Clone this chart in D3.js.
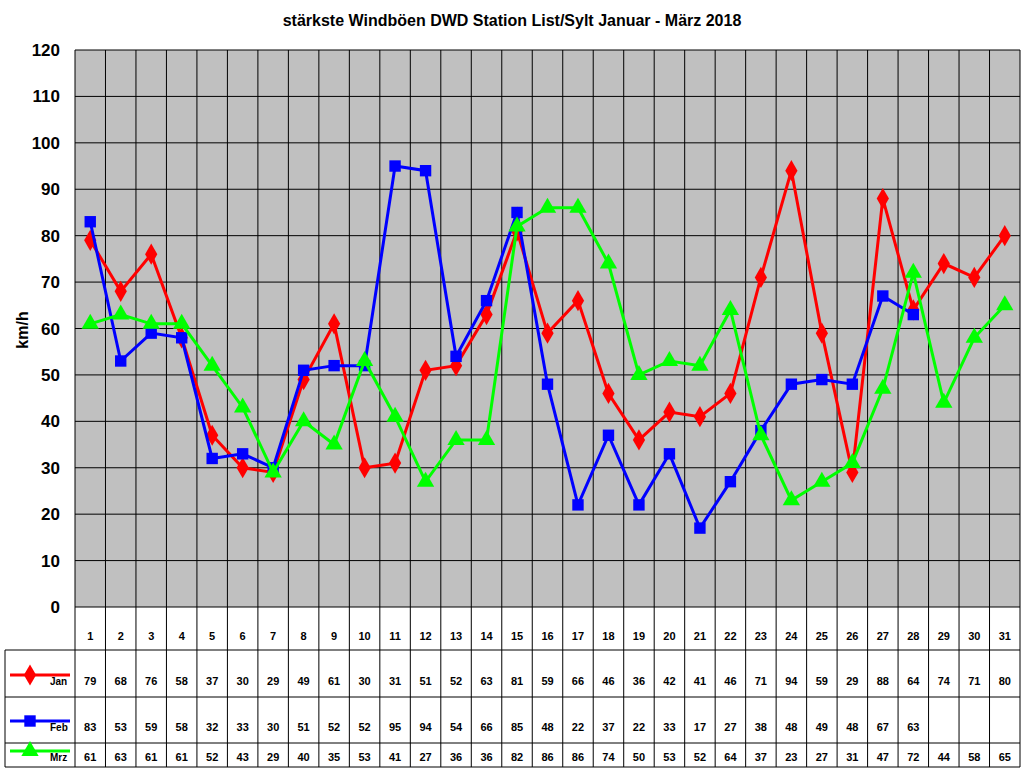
<!DOCTYPE html>
<html>
<head><meta charset="utf-8">
<script src="https://d3js.org/d3.v7.min.js"></script>
<style>body{margin:0;background:#fff}text{font-family:Arial,"Liberation Sans",sans-serif}</style>
</head>
<body>
<svg id="c" width="1024" height="768"></svg>
<script>
const days = d3.range(1, 32);
const jan = [79,68,76,58,37,30,29,49,61,30,31,51,52,63,81,59,66,46,36,42,41,46,71,94,59,29,88,64,74,71,80];
const feb = [83,53,59,58,32,33,30,51,52,52,95,94,54,66,85,48,22,37,22,33,17,27,38,48,49,48,67,63];
const mrz = [61,63,61,61,52,43,29,40,35,53,41,27,36,36,82,86,86,74,50,53,52,64,37,23,27,31,47,72,44,58,65];
const yTicks = d3.range(0, 121, 10);
const series = [
  {name: "Jan", data: jan, color: "#ff0000", shape: d3.symbolDiamond},
  {name: "Feb", data: feb, color: "#0000ff", shape: d3.symbolSquare},
  {name: "Mrz", data: mrz, color: "#00ff00", shape: d3.symbolTriangle}
];

const svg = d3.select("#c");
const L = 75, R = 1020, T = 50, B = 607;
const x = d3.scaleBand().domain(days).range([L, R]);
const y = d3.scaleLinear().domain([0, 120]).range([B, T]);

svg.append("text").attr("x", 512).attr("y", 26).attr("text-anchor", "middle")
  .attr("font-size", 16).attr("font-weight", "bold")
  .text("stärkste Windböen DWD Station List/Sylt Januar - März 2018");

svg.append("rect").attr("x", L).attr("y", T).attr("width", R - L).attr("height", B - T).attr("fill", "#c0c0c0");
svg.selectAll(".hg").data(yTicks).enter().append("line")
  .attr("x1", L).attr("x2", R).attr("y1", d => y(d)).attr("y2", d => y(d)).attr("stroke", "#000");
svg.selectAll(".vg").data(days).enter().append("line")
  .attr("x1", d => x(d)).attr("x2", d => x(d)).attr("y1", T).attr("y2", B).attr("stroke", "#000");
svg.append("line").attr("x1", R).attr("x2", R).attr("y1", T).attr("y2", B).attr("stroke", "#000");

svg.selectAll(".yt").data(yTicks).enter().append("text")
  .attr("x", L - 15).attr("y", d => y(d) + 6).attr("text-anchor", "end")
  .attr("font-size", 17).attr("font-weight", "bold").text(d => d);
svg.append("text").attr("transform", "translate(28,330) rotate(-90)").attr("text-anchor", "middle")
  .attr("font-size", 16).attr("font-weight", "bold").text("km/h");

const cx = d => x(d) + x.bandwidth() / 2;
series.forEach(s => {
  const pts = s.data.map((v, i) => [days[i], v]);
  svg.append("path").attr("fill", "none").attr("stroke", s.color).attr("stroke-width", 3)
    .attr("d", d3.line().x(d => cx(d[0])).y(d => y(d[1]))(pts));
  svg.selectAll(null).data(pts).enter().append("path")
    .attr("d", d3.symbol().type(s.shape).size(130))
    .attr("transform", d => `translate(${cx(d[0])},${y(d[1])})`).attr("fill", s.color);
});

// table
const rows = [607, 650, 697, 743, 767];
const tb = svg.append("g");
tb.selectAll(".hr").data(rows.slice(1)).enter().append("line")
  .attr("x1", 5).attr("x2", R).attr("y1", d => d).attr("y2", d => d).attr("stroke", "#000");
tb.append("line").attr("x1", 5).attr("x2", 5).attr("y1", 650).attr("y2", 767).attr("stroke", "#000");
tb.selectAll(".vr").data(days.concat([32])).enter().append("line")
  .attr("x1", d => d === 32 ? R : x(d)).attr("x2", d => d === 32 ? R : x(d))
  .attr("y1", B).attr("y2", 767).attr("stroke", "#000");
tb.selectAll(".dn").data(days).enter().append("text")
  .attr("x", cx).attr("y", 640).attr("text-anchor", "middle")
  .attr("font-size", 11).attr("font-weight", "bold").text(d => d);
series.forEach((s, k) => {
  const ty = [685, 731, 761][k];
  tb.selectAll(null).data(s.data).enter().append("text")
    .attr("x", (d, i) => cx(days[i])).attr("y", ty).attr("text-anchor", "middle")
    .attr("font-size", 11).attr("font-weight", "bold").text(d => d);
  const ly = ty - 10;
  tb.append("line").attr("x1", 10).attr("x2", 70).attr("y1", ly).attr("y2", ly)
    .attr("stroke", s.color).attr("stroke-width", 3);
  tb.append("path").attr("d", d3.symbol().type(s.shape).size(130))
    .attr("transform", `translate(30,${ly})`).attr("fill", s.color);
  tb.append("text").attr("x", 50).attr("y", ty).attr("font-size", 10).attr("font-weight", "bold").text(s.name);
});
</script>
</body>
</html>
